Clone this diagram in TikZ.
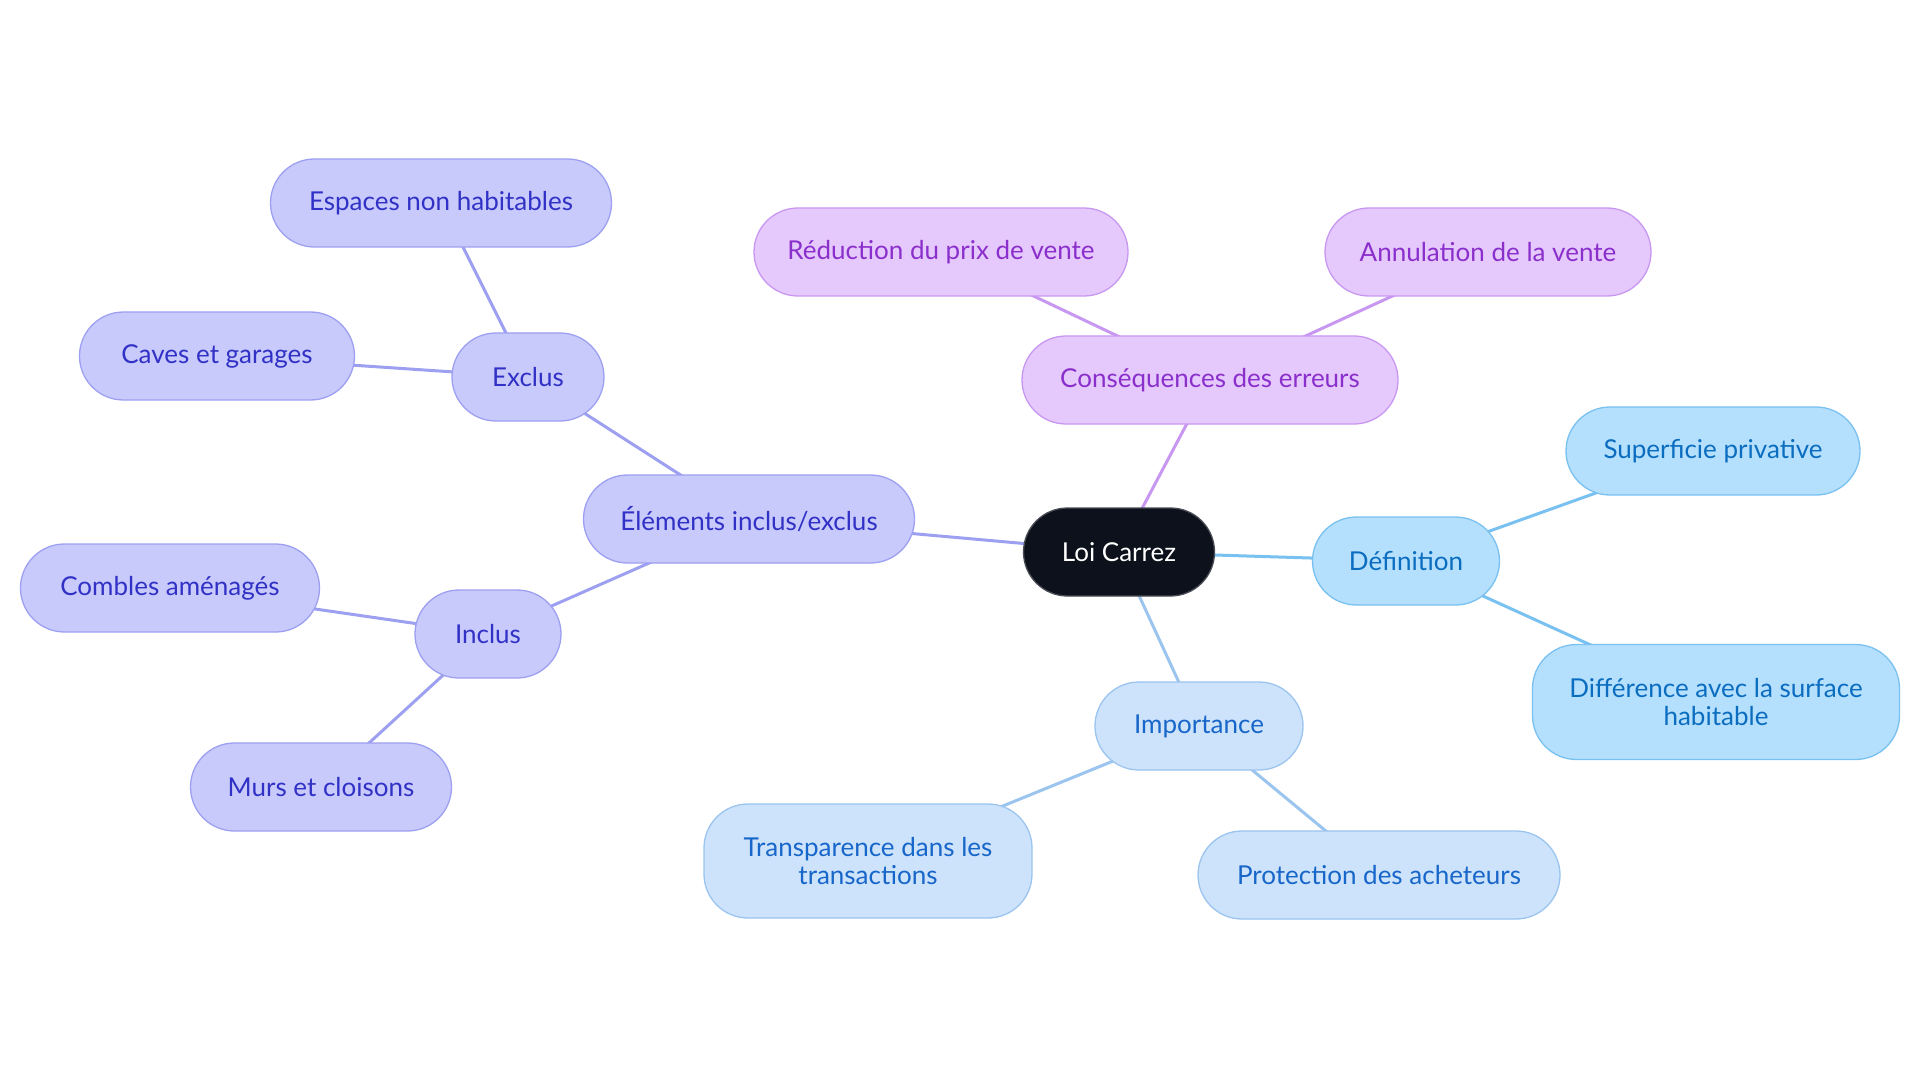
\documentclass[tikz,border=0pt]{standalone}
\usepackage{fontspec}
\setmainfont{Lato}
\usetikzlibrary{positioning, backgrounds}
\newlength{\h}
\setlength{\h}{88pt}
\newlength{\rad}
\setlength{\rad}{44pt}
\definecolor{rootcolor}{HTML}{0C111B}
\definecolor{conscolor}{HTML}{E6C9FC}
\definecolor{consline}{HTML}{C897F1}
\definecolor{constext}{HTML}{8A2FCB}
\definecolor{elemcolor}{HTML}{C8CAFC}
\definecolor{elemline}{HTML}{9DA0F1}
\definecolor{elemtext}{HTML}{3131C6}
\definecolor{defcolor}{HTML}{B4DFFD}
\definecolor{defline}{HTML}{79C1F0}
\definecolor{deftext}{HTML}{0B6DBF}
\definecolor{impcolor}{HTML}{CDE3FB}
\definecolor{impline}{HTML}{9BC4EF}
\definecolor{imptext}{HTML}{1766C9}
\tikzset{pill/.style={rounded corners=\rad, minimum height=\h, inner xsep=18pt, align=center, line width=1.3pt, font=\fontsize{26}{28}\selectfont}}
\tikzset{root/.style={pill, draw=rootcolor!75!white, fill=rootcolor, text=white}}
\tikzset{cons/.style={pill, draw=consline, fill=conscolor, text=constext}}
\tikzset{elem/.style={pill, draw=elemline, fill=elemcolor, text=elemtext}}
\tikzset{defn/.style={pill, draw=defline, fill=defcolor, text=deftext}}
\tikzset{imp/.style={pill, draw=impline, fill=impcolor, text=imptext}}
\tikzset{link/.style={line width=3pt}}

\begin{document}
\begin{tikzpicture}[x=1pt, y=-1pt]

	\useasboundingbox (0,0) rectangle (1920,1083);
	\begin{scope}[on background layer]
		\fill[white] (0,0) rectangle (1920,1083);
	\end{scope}

	%%% NODES %%%

	% ROOT
	\node[root, minimum width=191pt] at (1119,552) (loicarrez) {Loi Carrez};

	% DEFINITION
	\node[defn, minimum width=187pt] at (1406,561) (definition) {Définition};
	\node[defn, minimum width=294pt] at (1713,451) (superficie) {Superficie privative};
	\node[defn, minimum width=367pt, minimum height=115pt] at (1716,702) (difference) {Différence avec la surface\\habitable};

	% IMPORTANCE
	\node[imp, minimum width=208pt] at (1199,726) (importance) {Importance};
	\node[imp, minimum width=328pt, minimum height=114pt] at (868,861) (transparence) {Transparence dans les\\transactions};
	\node[imp, minimum width=362pt] at (1379,875) (protection) {Protection des acheteurs};

	% CONSEQUENCES
	\node[cons, minimum width=376pt] at (1210,380) (consequences) {Conséquences des erreurs};
	\node[cons, minimum width=374pt] at (941,252) (reduction) {Réduction du prix de vente};
	\node[cons, minimum width=326pt] at (1488,252) (annulation) {Annulation de la vente};

	% ELEMENTS
	\node[elem, minimum width=331pt] at (749,519) (elements) {Éléments inclus/exclus};
	\node[elem, minimum width=152pt] at (528,377) (exclus) {Exclus};
	\node[elem, minimum width=341pt] at (441,203) (espaces) {Espaces non habitables};
	\node[elem, minimum width=275pt] at (217,356) (caves) {Caves et garages};
	\node[elem, minimum width=146pt] at (488,634) (inclus) {Inclus};
	\node[elem, minimum width=299pt] at (170,588) (combles) {Combles aménagés};
	\node[elem, minimum width=261pt] at (321,787) (murs) {Murs et cloisons};

	%%% LINKS %%%
	\begin{scope}[on background layer]
		% DEFINITION
		\draw[link, defline] (loicarrez.center) -- (definition.center);
		\draw[link, defline] (definition.center) -- (superficie.center);
		\draw[link, defline] (definition.center) -- (difference.center);

		% IMPORTANCE
		\draw[link, impline] (loicarrez.center) -- (importance.center);
		\draw[link, impline] (importance.center) -- (transparence.center);
		\draw[link, impline] (importance.center) -- (protection.center);

		% CONSEQUENCES
		\draw[link, consline] (loicarrez.center) -- (consequences.center);
		\draw[link, consline] (consequences.center) -- (reduction.center);
		\draw[link, consline] (consequences.center) -- (annulation.center);

		% ELEMENTS
		\draw[link, elemline] (loicarrez.center) -- (elements.center);
		\draw[link, elemline] (elements.center) -- (exclus.center);
		\draw[link, elemline] (exclus.center) -- (espaces.center);
		\draw[link, elemline] (exclus.center) -- (caves.center);
		\draw[link, elemline] (elements.center) -- (inclus.center);
		\draw[link, elemline] (inclus.center) -- (combles.center);
		\draw[link, elemline] (inclus.center) -- (murs.center);
	\end{scope}

\end{tikzpicture}
\end{document}
